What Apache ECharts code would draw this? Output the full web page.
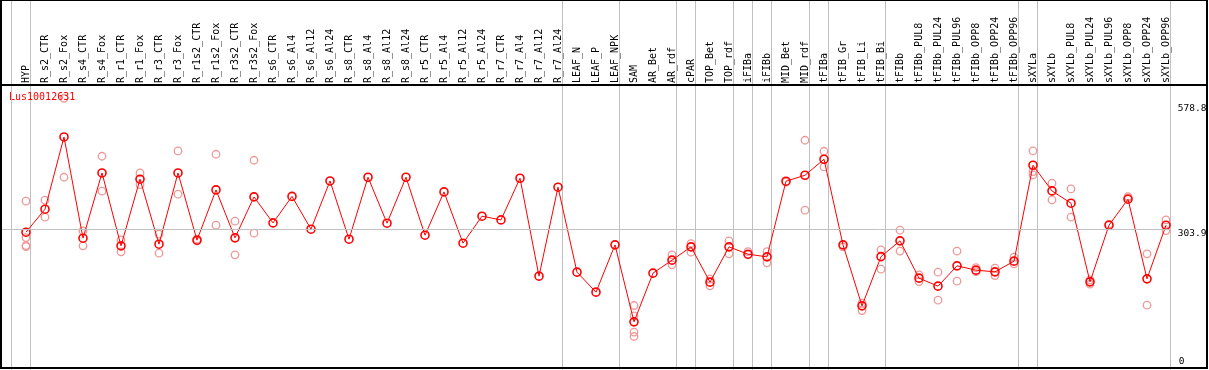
<!DOCTYPE html>
<html><head><meta charset="utf-8">
<script src="https://cdn.jsdelivr.net/npm/echarts@6/dist/echarts.min.js"></script>
<style>html,body{margin:0;padding:0;background:#fff}#c{width:1209px;height:370px}</style>
</head><body><div id="c"></div>
<script>
const chartTitle = 'Lus10012631';
const categories = ['HYP','R_s2_CTR','R_s2_Fox','R_s4_CTR','R_s4_Fox','R_r1_CTR','R_r1_Fox','R_r3_CTR','R_r3_Fox','R_r1s2_CTR','R_r1s2_Fox','R_r3s2_CTR','R_r3s2_Fox','R_s6_CTR','R_s6_Al4','R_s6_Al12','R_s6_Al24','R_s8_CTR','R_s8_Al4','R_s8_Al12','R_s8_Al24','R_r5_CTR','R_r5_Al4','R_r5_Al12','R_r5_Al24','R_r7_CTR','R_r7_Al4','R_r7_Al12','R_r7_Al24','LEAF_N','LEAF_P','LEAF_NPK','SAM','AR_Bet','AR_rdf','cPAR','TOP_Bet','TOP_rdf','iFIBa','iFIBb','MID_Bet','MID_rdf','tFIBa','tFIB_Gr','tFIB_Li','tFIB_Bi','tFIBb','tFIBb_PUL8','tFIBb_PUL24','tFIBb_PUL96','tFIBb_OPP8','tFIBb_OPP24','tFIBb_OPP96','sXYLa','sXYLb','sXYLb_PUL8','sXYLb_PUL24','sXYLb_PUL96','sXYLb_OPP8','sXYLb_OPP24','sXYLb_OPP96'];
const meanValues = [296.7,347.3,506.3,283.5,427.1,266.6,413.3,270.3,427.1,279.1,389.7,284.2,374.3,317.1,375.4,303.3,409.5,281.3,417.6,316.5,417.6,290.1,385.3,272.5,331.9,323.7,415.4,199.9,395.7,208.7,164.7,268.8,99.4,206.5,235.1,264.4,186.7,264.4,248.3,242.4,408.9,422.0,457.2,268.8,134.6,243.0,277.6,195.5,177.9,222.6,213.1,209.4,232.9,444.0,387.5,360.5,187.4,312.1,369.3,194.0,312.1];
const replicateValues = [
  [364.9,284.8,267.2,265.0],[367.1,329.7],[591.4,417.6],[299.5,266.6],[463.8,386.9],
  [279.8,253.4],[427.1,401.4],[292.3,250.5],[475.5,380.3],[281.3,277.6],
  [468.2,312.1],[320.9,246.8],[455.0,294.5],
  [],[],[],[],[],[],[],[],[],[],[],[],[],[],[],[],[],[],[],
  [135.3,112.6,76.8,67.1],[],[246.8,224.8],[271.6,252.7],[193.3,178.6],
  [277.6,249.0],[254.0,246.8],[254.0,229.2],[406.7],[499.0,345.1],
  [474.8,440.3],[264.4],[140.5,124.3],[257.8,215.3],[301.1,255.1],
  [202.8,188.0],[208.7,147.1],[254.9,188.9],[218.8,210.0],[217.5,201.2],
  [241.7,227.0],[475.5,430.0,422.7],[404.5,367.7],[391.9,329.7],[182.3,191.8],
  [314.3],[375.0,372.1],[249.0,136.1],[323.7,300.2]
];
const yTickLabels = [0, 303.9, 578.8];
const referenceValue = 303.9;
const separatorsAfter = [-1,0,28,31,34,35,37,38,39,41,42,45,52,53,60];

const FONT = 'DejaVu Sans Mono';
const xMin = -25/19, xMax = 60.25;
const gridRight = 1209 - (26 + 19*60.25);

const meanData = meanValues.map((v,i)=>[i,v]);
const repData = [];
replicateValues.forEach((arr,i)=>arr.forEach(v=>repData.push([i,v])));

const chart = echarts.init(document.getElementById('c'), null, {renderer:'canvas'});
chart.setOption({
  animation:false,
  backgroundColor:'#fff',
  title:{text:chartTitle,left:9,top:92,padding:0,textStyle:{color:'#ff0000',fontSize:10,fontFamily:FONT,fontWeight:'normal'}},
  grid:[
    {left:1,right:gridRight,top:104,bottom:3,containLabel:false,outerBoundsMode:'none'}
  ],
  xAxis:[
    {type:'value',gridIndex:0,min:xMin,max:xMax,position:'top',offset:19,
     axisLine:{show:false},axisTick:{show:false},splitLine:{show:false},
     axisLabel:{customValues:categories.map((c,i)=>i),formatter:v=>categories[v]||'',rotate:90,margin:2,
       color:'#000',fontSize:10,fontFamily:FONT}}
  ],
  yAxis:[
    {type:'value',gridIndex:0,min:0,max:578.8,position:'right',
     axisLine:{show:false},axisTick:{show:false},splitLine:{show:false},
     axisLabel:{customValues:yTickLabels.filter(v=>v>0),formatter:v=>Number(v).toFixed(1),margin:7,
       verticalAlign:'top',align:'left',color:'#000',fontSize:9.5,fontFamily:FONT}},
    {type:'value',gridIndex:0,min:0,max:578.8,position:'right',
     axisLine:{show:false},axisTick:{show:false},splitLine:{show:false},
     axisLabel:{customValues:yTickLabels.filter(v=>v===0),formatter:v=>String(v),margin:8,
       verticalAlign:'bottom',align:'left',color:'#000',fontSize:9.5,fontFamily:FONT}}
  ],
  series:[
    {type:'scatter',xAxisIndex:0,yAxisIndex:0,data:repData,symbol:'circle',symbolSize:7.5,clip:false,z:1,silent:true,
     itemStyle:{color:'rgba(0,0,0,0)',borderColor:'#ee9898',borderWidth:1.3,opacity:1},
     markLine:{silent:true,symbol:'none',label:{show:false},animation:false,
       lineStyle:{color:'#c0c0c0',width:1,type:'solid'},data:[{yAxis:referenceValue}]}},
    {type:'line',xAxisIndex:0,yAxisIndex:0,data:meanData,symbol:'circle',symbolSize:8,showAllSymbol:true,clip:false,z:2,silent:true,
     lineStyle:{color:'#ff0000',width:1},itemStyle:{color:'rgba(0,0,0,0)',borderColor:'#ff0000',borderWidth:1.6}}
  ]
});

// vertical group separators: x position from the library's own x scale, drawn as 1px-wide rects
const sepGraphics = separatorsAfter.map(i=>{
  const px = chart.convertToPixel({xAxisIndex:0}, i + 0.2368);
  const x = Math.floor(px);
  return {type:'rect',silent:true,z:(i < 0 ? 50 : -10),shape:{x:x,y:0,width:1,height:370},style:{fill:'#c0c0c0'}};
});
chart.setOption({
  graphic:{elements:sepGraphics.concat([
    {type:'rect',silent:true,z:100,shape:{x:1,y:0,width:1206,height:368},style:{fill:'none',stroke:'#000',lineWidth:2}},
    {type:'line',silent:true,z:100,shape:{x1:1,y1:85,x2:1207,y2:85},style:{stroke:'#000',lineWidth:2}}
  ])}
});
</script></body></html>
